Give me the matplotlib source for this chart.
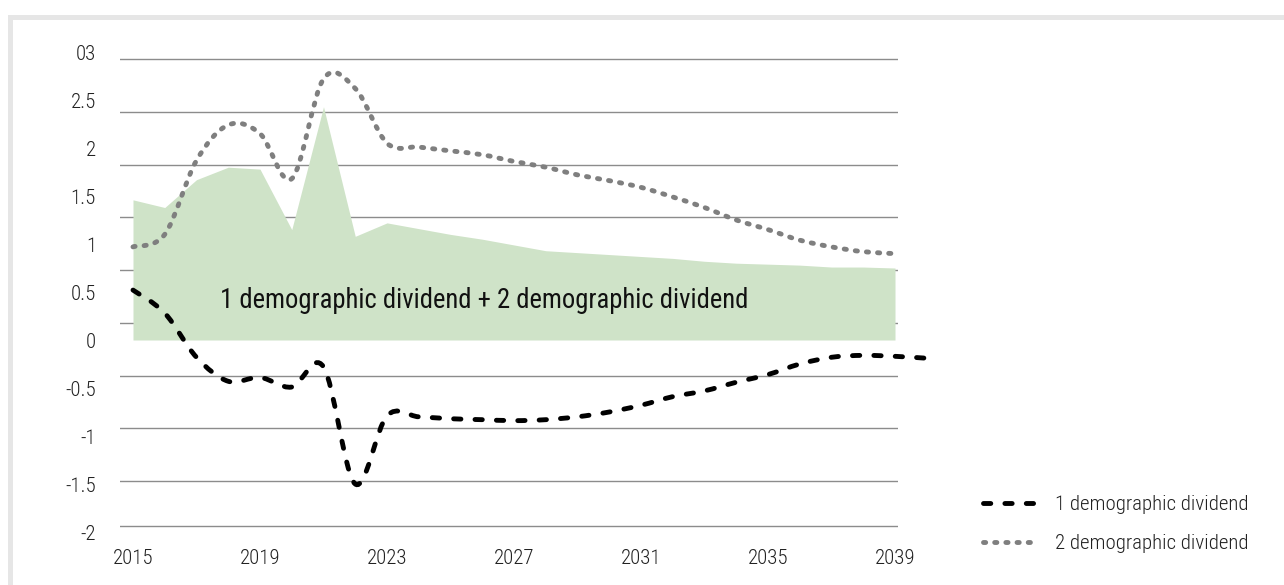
import matplotlib.pyplot as plt
import numpy as np
from matplotlib.path import Path
from matplotlib.patches import PathPatch, Rectangle
from matplotlib.lines import Line2D

plt.rcParams["font.family"] = ["Roboto Condensed", "Roboto", "DejaVu Sans"]

# data
years_first = list(range(2015, 2041))
first_div = [0.52, 0.28, -0.18, -0.43, -0.39, -0.49, -0.28, -1.50, -0.79,
             -0.80, -0.82, -0.83, -0.84, -0.83, -0.80, -0.75, -0.68, -0.59,
             -0.53, -0.44, -0.36, -0.25, -0.18, -0.16, -0.17, -0.19]

years_second = list(range(2015, 2040))
second_div = [0.97, 1.10, 1.87, 2.24, 2.15, 1.68, 2.72, 2.62, 2.05, 2.01,
              1.97, 1.93, 1.86, 1.80, 1.72, 1.66, 1.59, 1.49, 1.38, 1.25,
              1.15, 1.04, 0.97, 0.92, 0.90]

years_total = list(range(2015, 2040))
total_div = [1.46, 1.38, 1.67, 1.80, 1.78, 1.15, 2.43, 1.08, 1.22, 1.16,
             1.10, 1.05, 0.99, 0.93, 0.91, 0.89, 0.87, 0.85, 0.82, 0.80,
             0.79, 0.78, 0.76, 0.76, 0.75]

y_ticks = [3, 2.5, 2, 1.5, 1, 0.5, 0, -0.5, -1, -1.5, -2]
y_labels = ["03", "2.5", "2", "1.5", "1", "0.5", "0", "-0.5", "-1", "-1.5", "-2"]
x_ticks = [2015, 2019, 2023, 2027, 2031, 2035, 2039]

label_first = "1 demographic dividend"
label_second = "2 demographic dividend"
label_total = "1 demographic dividend + 2 demographic dividend"

GREEN = "#cfe3c8"
GREY_LINE = "#7f7f7f"
GRID = "#8c8c8c"
FRAME = "#e6e6e6"
TEXT = "#222222"

FIRST_STYLE = dict(lw=3.5, linestyle=(0, (1.5, 2.9)))
SECOND_STYLE = dict(lw=3.5, linestyle=(0, (0.45, 1.85)))


def smooth_path(xs, ys):
    # catmull-rom style smoothing, like the spreadsheet "smoothed line"
    pts = np.column_stack([xs, ys]).astype(float)
    ext = np.vstack([pts[0], pts, pts[-1]])
    verts = [pts[0]]
    codes = [Path.MOVETO]
    for i in range(len(pts) - 1):
        p0, p1, p2, p3 = ext[i], ext[i + 1], ext[i + 2], ext[i + 3]
        verts += [p1 + (p2 - p0) / 6, p2 - (p3 - p1) / 6, p2]
        codes += [Path.CURVE4] * 3
    return Path(verts, codes)


W, H = 1284, 585
fig = plt.figure(figsize=(W / 100, H / 100), dpi=100)

# outer light frame (only top and left edges are inside the picture)
fig.patches.append(Rectangle((10 / W, -0.2), 1.5, 1.2 - 16.5 / H,
                             transform=fig.transFigure, fill=False,
                             edgecolor=FRAME, lw=3.6, clip_on=False))

ax_left, ax_right, ax_top, ax_bottom = 110, 940, 40, 545
rect = [ax_left / W, (H - ax_bottom) / H, (ax_right - ax_left) / W,
        (ax_bottom - ax_top) / H]

# grid lines sit on their own spacing in the original, not on the labels
gax = fig.add_axes([120 / W, rect[1], 778 / W, rect[3]])
gax.set_ylim(ax_bottom, ax_top)
gax.set_xlim(0, 1)
gax.set_yticks([59, 112, 165, 217, 270, 323, 376, 428, 481, 526])
gax.grid(axis="y", color=GRID, lw=1.0)
gax.set_xticks([])
gax.tick_params(axis="y", length=0, labelleft=False)
for s in gax.spines.values():
    s.set_visible(False)
gax.patch.set_visible(False)

ax = fig.add_axes(rect)
ax.patch.set_visible(False)
ax.set_xlim(2015 - 23 / 31.75, 2039 + 45 / 31.75)
ax.set_ylim((340 - ax_bottom) / 96, (340 - ax_top) / 96)

ax.fill_between(years_total, 0, total_div, color=GREEN, lw=0, zorder=1)

ax.add_patch(PathPatch(smooth_path(years_second, second_div), fill=False,
                       edgecolor=GREY_LINE, capstyle="round", zorder=3,
                       **SECOND_STYLE))
ax.add_patch(PathPatch(smooth_path(years_first, first_div), fill=False,
                       edgecolor="black", capstyle="round", zorder=4,
                       **FIRST_STYLE))

ax.text((220 - ax_left) / (ax_right - ax_left),
        (ax_bottom - 300) / (ax_bottom - ax_top),
        label_total, transform=ax.transAxes, ha="left", va="center",
        fontsize=19.2, color="#111111", zorder=5)

ax.set_yticks(y_ticks)
ax.set_yticklabels(y_labels)
ax.set_xticks(x_ticks)
ax.set_xticklabels([str(x) for x in x_ticks])
ax.tick_params(axis="both", length=0, labelsize=15, colors=TEXT)
ax.tick_params(axis="y", pad=10)
ax.tick_params(axis="x", pad=3)
for lab in ax.get_xticklabels() + ax.get_yticklabels():
    lab.set_fontweight("light")
for s in ax.spines.values():
    s.set_visible(False)

handles = [
    Line2D([], [], color="black", dash_capstyle="round", **FIRST_STYLE),
    Line2D([], [], color=GREY_LINE, dash_capstyle="round", **SECOND_STYLE),
]
leg = fig.legend(handles, [label_first, label_second], loc="upper left",
                 bbox_to_anchor=(983 / W, 1 - 495 / H), frameon=False,
                 fontsize=15, handlelength=2.52, handletextpad=0.93,
                 labelspacing=0.95, borderpad=0, borderaxespad=0,
                 labelcolor=TEXT)
for t in leg.get_texts():
    t.set_fontweight("light")

fig.savefig("out.png", dpi=100)
